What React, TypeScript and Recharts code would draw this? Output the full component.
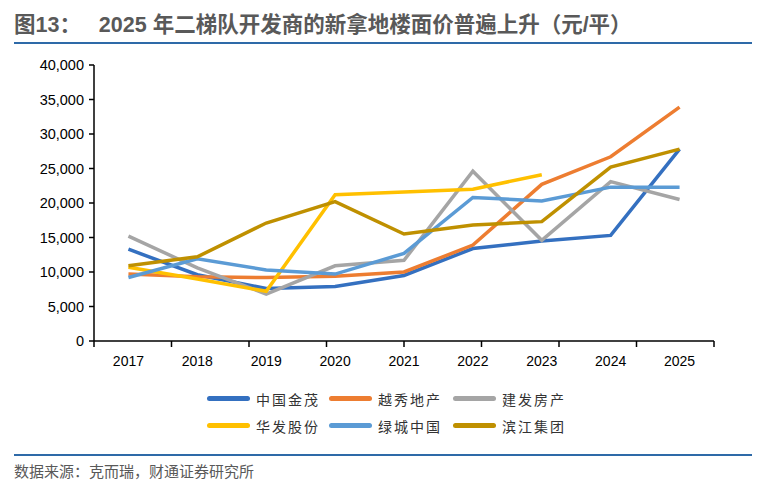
import { LineChart, Line, XAxis, YAxis } from "recharts";

const years = ["2017", "2018", "2019", "2020", "2021", "2022", "2023", "2024", "2025"];
const yTicks = [0, 5000, 10000, 15000, 20000, 25000, 30000, 35000, 40000];

const jinmao = [13300, 9600, 7600, 7900, 9500, 13400, 14500, 15300, 27800];
const yuexiu = [9700, 9300, 9200, 9400, 10000, 13900, 22700, 26700, 33900];
const jianfa = [15200, 10600, 6800, 10900, 11700, 24600, 14600, 23100, 20500];
const huafa = [10700, 9000, 7200, 21200, 21600, 22000, 24100, null, null];
const lvcheng = [9200, 11900, 10300, 9700, 12700, 20800, 20300, 22300, 22300];
const binjiang = [10900, 12200, 17100, 20200, 15500, 16800, 17300, 25200, 27800];

const series = [
  { key: "jinmao", name: "中国金茂", color: "#3470C0", values: jinmao },
  { key: "yuexiu", name: "越秀地产", color: "#ED7D31", values: yuexiu },
  { key: "jianfa", name: "建发房产", color: "#A5A5A5", values: jianfa },
  { key: "huafa", name: "华发股份", color: "#FFC000", values: huafa },
  { key: "lvcheng", name: "绿城中国", color: "#5B9BD5", values: lvcheng },
  { key: "binjiang", name: "滨江集团", color: "#BF9000", values: binjiang },
];

const chartData = years.map((year, i) => {
  const row: any = { year };
  series.forEach(s => { row[s.key] = s.values[i]; });
  return row;
});

// band boundaries for the tick marks under the category axis
const boundaries = years.map((_, i) => i).concat(years.length);

const latin = '"Liberation Sans", Arial, sans-serif';
const cjk = '"Noto Sans CJK SC", "Liberation Sans", sans-serif';

export default function App() {
  return (
    <div style={{ position: "absolute", left: 0, top: 0, width: 762, height: 486, background: "#fff", fontFamily: cjk }}>
      <div style={{ position: "absolute", left: 14, top: 12, fontSize: 21.5, fontWeight: "bold", color: "#595959", whiteSpace: "pre", lineHeight: "26px", fontFamily: '"Liberation Sans", "Noto Sans CJK SC", sans-serif' }}>
        {"图13：   2025 年二梯队开发商的新拿地楼面价普遍上升（元/平）"}
      </div>
      <div style={{ position: "absolute", left: 14, top: 42, width: 738, height: 2, background: "#2E6AA8" }} />

      <div style={{ position: "absolute", left: 0, top: 0 }}>
        <LineChart width={762} height={380} data={chartData} margin={{ top: 65, right: 48, left: 0, bottom: 8 }}>
          <XAxis
            xAxisId="a"
            type="number"
            domain={[0, years.length]}
            ticks={boundaries}
            height={1}
            tickFormatter={() => ""}
            tickSize={6}
            stroke="#000"
            axisLine={{ stroke: "#000", strokeWidth: 1.5 }}
            tickLine={{ stroke: "#000", strokeWidth: 1.5 }}
          />
          <XAxis
            xAxisId="b"
            dataKey="year"
            scale="band"
            height={30}
            tickLine={false}
            axisLine={false}
            tickSize={6}
            tickMargin={8}
            tick={{ fill: "#000", fontSize: 14, fontFamily: latin }}
          />
          <YAxis
            width={94}
            domain={[0, 40000]}
            ticks={yTicks}
            tickSize={5}
            tickMargin={5}
            tickFormatter={(v: number) => v.toLocaleString("en-US")}
            axisLine={{ stroke: "#000", strokeWidth: 1.5 }}
            tickLine={{ stroke: "#000", strokeWidth: 1.5 }}
            tick={{ fill: "#000", fontSize: 14.5, fontFamily: latin }}
          />
          {series.map(s => (
            <Line
              key={s.key}
              xAxisId="b"
              dataKey={s.key}
              name={s.name}
              stroke={s.color}
              strokeWidth={3.5}
              dot={false}
              type="linear"
              isAnimationActive={false}
            />
          ))}
        </LineChart>
      </div>

      <div style={{ position: "absolute", left: 207, top: 388, display: "grid", gridTemplateColumns: "122px 124px 124px", rowGap: 6 }}>
        {series.map(s => (
          <div key={s.key} style={{ display: "flex", alignItems: "center", height: 21 }}>
            <div style={{ width: 43, height: 5, borderRadius: 3, background: s.color, marginRight: 6 }} />
            <span style={{ fontSize: 14, letterSpacing: 2, color: "#333" }}>{s.name}</span>
          </div>
        ))}
      </div>

      <div style={{ position: "absolute", left: 14, top: 454, width: 738, height: 1.5, background: "#2E6AA8" }} />
      <div style={{ position: "absolute", left: 14, top: 460, fontSize: 15, color: "#595959" }}>
        数据来源：克而瑞，财通证券研究所
      </div>
    </div>
  );
}
